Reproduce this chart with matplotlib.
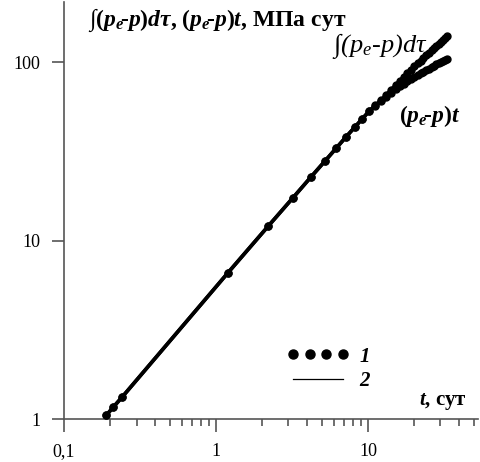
import matplotlib
matplotlib.use("Agg")
import matplotlib.pyplot as plt
from matplotlib.lines import Line2D
from matplotlib.ticker import FixedLocator, FixedFormatter, LogLocator, NullFormatter

plt.rcParams['font.family'] = ['Liberation Serif', 'DejaVu Serif']
plt.rcParams['mathtext.fontset'] = 'custom'
plt.rcParams['mathtext.it'] = 'Liberation Serif:italic:bold'
plt.rcParams['mathtext.rm'] = 'Liberation Serif:bold'
plt.rcParams['mathtext.bf'] = 'Liberation Serif:bold'
plt.rcParams['mathtext.sf'] = 'Liberation Serif:italic'

# time, days
t = [0.19, 0.21, 0.24, 1.2, 2.2, 3.2, 4.2, 5.2, 6.2, 7.2, 8.2, 9.2, 10.2, 11.2,
     12.2, 13.2, 14.2, 15.2, 16.2, 17.2, 18.2, 19.2, 20.2, 21.2, 22.2, 23.2,
     24.2, 25.2, 26.2, 27.2, 28.2, 29.2, 30.2, 31.2, 32.2, 33.2]
# integral of (pe-p) dtau, MPa*day
integral = [1.05, 1.16, 1.32, 6.6, 12.0, 17.3, 22.6, 27.8, 33.0, 38.2, 43.2, 48.2,
            53.1, 57.3, 61.0, 65.5, 70.0, 74.3, 78.5, 82.6, 86.6, 90.6, 94.5, 98.3,
            102.0, 105.7, 109.3, 112.9, 116.4, 119.9, 123.3, 126.7, 130.0, 133.3,
            136.6, 140.0]
# (pe-p)*t, MPa*day
product = [1.05, 1.16, 1.32, 6.6, 12.0, 17.3, 22.6, 27.8, 33.0, 38.2, 43.2, 48.2,
           53.1, 57.0, 60.5, 64.0, 67.2, 70.2, 73.0, 75.6, 78.0, 80.3, 82.5, 84.6,
           86.6, 88.5, 90.3, 92.0, 93.7, 95.3, 96.9, 98.4, 99.9, 101.3, 102.7, 104.0]

x_ticks = [0.1, 1, 10]
x_tick_labels = ["0,1", "1", "10"]
y_ticks = [1, 10, 100]
y_tick_labels = ["1", "10", "100"]

W, H = 480, 462
fig = plt.figure(figsize=(W / 100, H / 100), dpi=100)
ax = fig.add_axes([64 / W, (H - 419) / H, 414 / W, 417 / H])
ax.set_xscale('log')
ax.set_yscale('log')
ax.set_xlim(0.1, 53)
ax.set_ylim(1, 217)

for s in ['top', 'right']:
    ax.spines[s].set_visible(False)
for s in ['left', 'bottom']:
    ax.spines[s].set_color('#555555')
    ax.spines[s].set_linewidth(1.2)

ax.plot(t, integral, color='black', lw=2.6, marker='o', ms=5, zorder=3)
ax.plot(t, product, color='black', lw=2.6, marker='o', ms=5, zorder=3)

ax.xaxis.set_major_locator(FixedLocator(x_ticks))
ax.xaxis.set_major_formatter(FixedFormatter(x_tick_labels))
ax.yaxis.set_major_locator(FixedLocator(y_ticks))
ax.yaxis.set_major_formatter(FixedFormatter(y_tick_labels))
ax.xaxis.set_minor_locator(LogLocator(base=10, subs=range(2, 10)))
ax.xaxis.set_minor_formatter(NullFormatter())
ax.yaxis.set_minor_locator(FixedLocator([]))
ax.tick_params(which='major', direction='out', length=9, width=1.2, color='#555555',
               labelsize=13, pad=8)
ax.tick_params(which='minor', axis='x', direction='out', length=5, width=1.2, color='#555555')

fig.text(88 / W, 1 - 26 / H,
         r"$\int(p_e\!\text{-}p)d\tau$, $(p_e\!\text{-}p)t$, МПа сут",
         fontsize=17, fontweight='bold')
fig.text(332 / W, 1 - 52 / H, "$\\mathsf{\\int(p_e\u2010p)d\u03c4}$", fontsize=19)
fig.text(399 / W, 1 - 122 / H, r"$(p_e\!\text{-}p)t$", fontsize=17)
fig.text(419 / W, 1 - 405 / H, r"$t$, сут", fontsize=15, fontweight='bold')

handles = [Line2D([], [], color='black', marker='o', ms=6.5, ls='none'),
           Line2D([], [], color='black', lw=0.9)]
leg = ax.legend(handles, ['1', '2'], loc='upper left',
                bbox_to_anchor=((268 - 64) / 414, (419 - 328) / 417),
                frameon=False, numpoints=4, handlelength=3.0, fontsize=15,
                labelspacing=0.2, handletextpad=0.5)
for txt in leg.get_texts():
    txt.set_fontstyle('italic')
    txt.set_fontweight('bold')

fig.savefig('out.png', dpi=100)
